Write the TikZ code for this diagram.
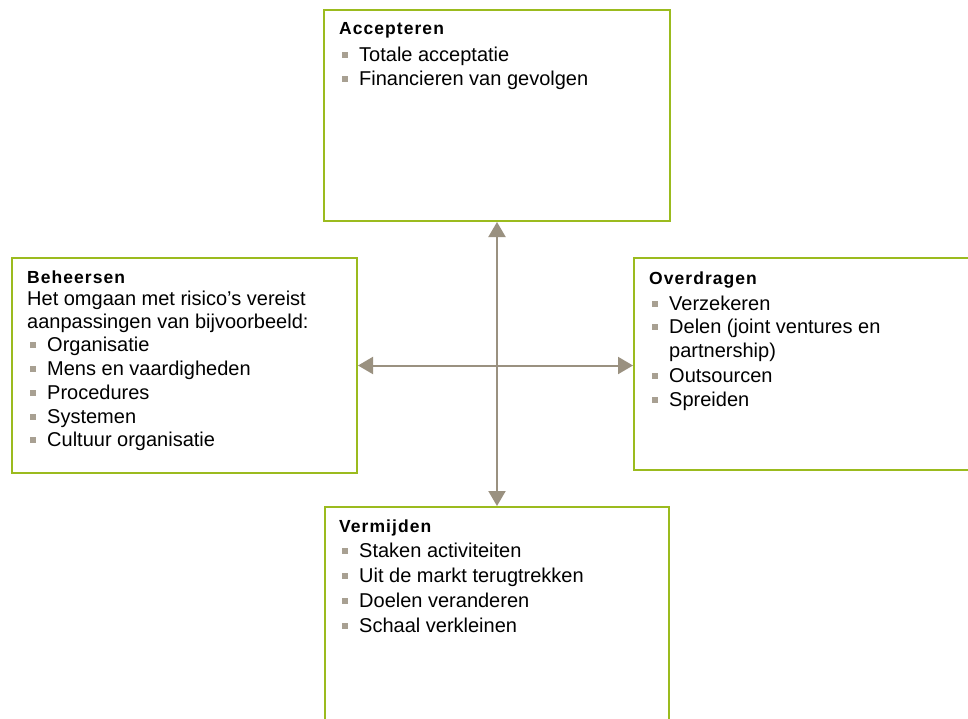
\documentclass[tikz,border=0pt]{standalone}
\usepackage{fontspec}
\setmainfont{Liberation Sans}
\newfontfamily\titlefont{Liberation Sans}[LetterSpace=6]
\usetikzlibrary{arrows.meta}
\definecolor{boxgreen}{RGB}{155,187,30}
\definecolor{arrowgray}{RGB}{154,145,128}
\definecolor{bulletgray}{RGB}{168,160,146}
\newcommand{\blt}{\makebox[17pt][l]{\textcolor{bulletgray}{\rule[3pt]{6pt}{6pt}}}}
\begin{document}
\begin{tikzpicture}[x=1pt,y=-1pt,
  riskbox/.style={draw=boxgreen, line width=2pt, rectangle, inner sep=0pt, anchor=north west},
  ttl/.style={anchor=base west, inner sep=0pt, font=\titlefont\bfseries\fontsize{17.5}{20}\selectfont},
  txt/.style={anchor=base west, inner sep=0pt, font=\fontsize{20}{24}\selectfont},
  conn/.style={draw=arrowgray, line width=2pt, {Triangle[length=15pt,width=17pt]}-{Triangle[length=15pt,width=17pt]}}]
\useasboundingbox (0,0) rectangle (968,718);
\begin{scope}
\clip (0,0) rectangle (968,718);
% boxes (outer corner at north west)
\node[riskbox, minimum width=346pt, minimum height=211pt] (acc) at (323,9) {};
\node[riskbox, minimum width=345pt, minimum height=215pt] (beh) at (11,257) {};
\node[riskbox, minimum width=368pt, minimum height=212pt] (over) at (633,257) {};
\node[riskbox, minimum width=344pt, minimum height=240pt] (verm) at (324,506) {};
% Accepteren
\node[ttl] (accT) at (339,34) {Accepteren};
\node[txt] (acc1) at (342,61) {\blt Totale acceptatie};
\node[txt] (acc2) at (342,85) {\blt Financieren van gevolgen};
% Beheersen
\node[ttl] (behT) at (27,283) {Beheersen};
\node[txt] (beh0) at (27,305) {Het omgaan met risico’s vereist};
\node[txt] (beh0b) at (27,328) {aanpassingen van bijvoorbeeld:};
\node[txt] (beh1) at (30,351) {\blt Organisatie};
\node[txt] (beh2) at (30,375) {\blt Mens en vaardigheden};
\node[txt] (beh3) at (30,399) {\blt Procedures};
\node[txt] (beh4) at (30,423) {\blt Systemen};
\node[txt] (beh5) at (30,446) {\blt Cultuur organisatie};
% Overdragen
\node[ttl] (overT) at (649,284) {Overdragen};
\node[txt] (over1) at (652,310) {\blt Verzekeren};
\node[txt] (over2) at (652,333) {\blt Delen (joint ventures en};
\node[txt] (over2b) at (669,357) {partnership)};
\node[txt] (over3) at (652,382) {\blt Outsourcen};
\node[txt] (over4) at (652,406) {\blt Spreiden};
% Vermijden
\node[ttl] (vermT) at (339,532) {Vermijden};
\node[txt] (verm1) at (342,557) {\blt Staken activiteiten};
\node[txt] (verm2) at (342,582) {\blt Uit de markt terugtrekken};
\node[txt] (verm3) at (342,607) {\blt Doelen veranderen};
\node[txt] (verm4) at (342,632) {\blt Schaal verkleinen};
% connectors
\draw[conn] (acc.south) -- (verm.north);
\draw[conn] (beh.east) -- (beh.east -| over.west);
\end{scope}
\end{tikzpicture}
\end{document}
